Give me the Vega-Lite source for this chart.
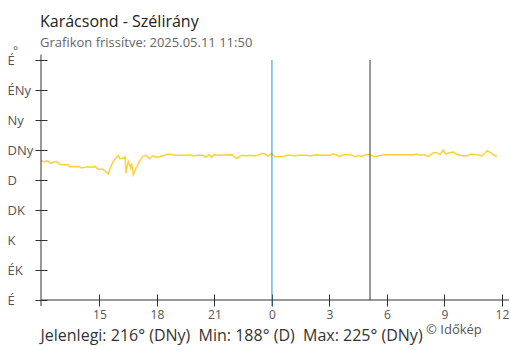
{
  "$schema": "https://vega.github.io/schema/vega-lite/v6.json",
  "autosize": "none",
  "width": 467,
  "height": 240,
  "padding": {"left": 41, "top": 60, "right": 2, "bottom": 50},
  "background": "white",
  "config": {"view": {"stroke": null}, "font": "Open Sans"},
  "title": {
    "text": "Karácsond - Szélirány",
    "subtitle": "Grafikon frissítve: 2025.05.11 11:50",
    "anchor": "start",
    "frame": "group",
    "font": "Open Sans",
    "subtitleFont": "Open Sans",
    "fontSize": 16,
    "fontWeight": "normal",
    "color": "#222222",
    "subtitleFontSize": 13,
    "subtitleColor": "#666666",
    "offset": 12,
    "subtitlePadding": 7,
    "dx": -1,
    "dy": 18
  },
  "datasets": {
    "wind": [
      {"t": "2025-05-10T11:57:00Z", "deg": 209},
      {"t": "2025-05-10T12:09:00Z", "deg": 207},
      {"t": "2025-05-10T12:17:00Z", "deg": 209},
      {"t": "2025-05-10T12:27:00Z", "deg": 205},
      {"t": "2025-05-10T12:45:00Z", "deg": 208},
      {"t": "2025-05-10T12:58:00Z", "deg": 203},
      {"t": "2025-05-10T13:21:00Z", "deg": 203},
      {"t": "2025-05-10T13:27:00Z", "deg": 200},
      {"t": "2025-05-10T13:58:00Z", "deg": 200},
      {"t": "2025-05-10T14:03:00Z", "deg": 198},
      {"t": "2025-05-10T14:22:00Z", "deg": 200},
      {"t": "2025-05-10T14:34:00Z", "deg": 199},
      {"t": "2025-05-10T14:47:00Z", "deg": 200},
      {"t": "2025-05-10T14:55:00Z", "deg": 196},
      {"t": "2025-05-10T15:11:00Z", "deg": 196},
      {"t": "2025-05-10T15:16:00Z", "deg": 194},
      {"t": "2025-05-10T15:27:00Z", "deg": 189},
      {"t": "2025-05-10T15:33:00Z", "deg": 197},
      {"t": "2025-05-10T15:43:00Z", "deg": 208},
      {"t": "2025-05-10T15:54:00Z", "deg": 214},
      {"t": "2025-05-10T15:59:00Z", "deg": 217},
      {"t": "2025-05-10T16:04:00Z", "deg": 212},
      {"t": "2025-05-10T16:17:00Z", "deg": 213},
      {"t": "2025-05-10T16:20:00Z", "deg": 216},
      {"t": "2025-05-10T16:23:00Z", "deg": 190},
      {"t": "2025-05-10T16:30:00Z", "deg": 208},
      {"t": "2025-05-10T16:38:00Z", "deg": 198},
      {"t": "2025-05-10T16:41:00Z", "deg": 205},
      {"t": "2025-05-10T16:46:00Z", "deg": 188},
      {"t": "2025-05-10T16:55:00Z", "deg": 198},
      {"t": "2025-05-10T17:05:00Z", "deg": 208},
      {"t": "2025-05-10T17:15:00Z", "deg": 215},
      {"t": "2025-05-10T17:26:00Z", "deg": 217},
      {"t": "2025-05-10T17:36:00Z", "deg": 212},
      {"t": "2025-05-10T17:46:00Z", "deg": 216},
      {"t": "2025-05-10T17:59:00Z", "deg": 214},
      {"t": "2025-05-10T18:15:00Z", "deg": 216},
      {"t": "2025-05-10T18:35:00Z", "deg": 219},
      {"t": "2025-05-10T18:46:00Z", "deg": 218},
      {"t": "2025-05-10T19:02:00Z", "deg": 217},
      {"t": "2025-05-10T19:33:00Z", "deg": 217},
      {"t": "2025-05-10T19:43:00Z", "deg": 218},
      {"t": "2025-05-10T19:54:00Z", "deg": 216},
      {"t": "2025-05-10T20:04:00Z", "deg": 217},
      {"t": "2025-05-10T20:25:00Z", "deg": 217},
      {"t": "2025-05-10T20:32:00Z", "deg": 214},
      {"t": "2025-05-10T20:43:00Z", "deg": 218},
      {"t": "2025-05-10T20:51:00Z", "deg": 214},
      {"t": "2025-05-10T20:59:00Z", "deg": 218},
      {"t": "2025-05-10T21:12:00Z", "deg": 217},
      {"t": "2025-05-10T21:54:00Z", "deg": 218},
      {"t": "2025-05-10T22:09:00Z", "deg": 212},
      {"t": "2025-05-10T22:25:00Z", "deg": 217},
      {"t": "2025-05-10T22:41:00Z", "deg": 216},
      {"t": "2025-05-10T22:51:00Z", "deg": 217},
      {"t": "2025-05-10T23:07:00Z", "deg": 216},
      {"t": "2025-05-10T23:15:00Z", "deg": 217},
      {"t": "2025-05-10T23:28:00Z", "deg": 220},
      {"t": "2025-05-10T23:38:00Z", "deg": 219},
      {"t": "2025-05-10T23:48:00Z", "deg": 216},
      {"t": "2025-05-10T23:59:00Z", "deg": 220},
      {"t": "2025-05-11T00:09:00Z", "deg": 215},
      {"t": "2025-05-11T00:35:00Z", "deg": 215},
      {"t": "2025-05-11T00:46:00Z", "deg": 217},
      {"t": "2025-05-11T01:02:00Z", "deg": 217},
      {"t": "2025-05-11T01:12:00Z", "deg": 216},
      {"t": "2025-05-11T01:22:00Z", "deg": 217},
      {"t": "2025-05-11T01:49:00Z", "deg": 217},
      {"t": "2025-05-11T01:57:00Z", "deg": 216},
      {"t": "2025-05-11T02:20:00Z", "deg": 218},
      {"t": "2025-05-11T02:36:00Z", "deg": 217},
      {"t": "2025-05-11T03:02:00Z", "deg": 217},
      {"t": "2025-05-11T03:10:00Z", "deg": 219},
      {"t": "2025-05-11T03:23:00Z", "deg": 218},
      {"t": "2025-05-11T03:31:00Z", "deg": 215},
      {"t": "2025-05-11T03:43:00Z", "deg": 218},
      {"t": "2025-05-11T04:04:00Z", "deg": 218},
      {"t": "2025-05-11T04:20:00Z", "deg": 215},
      {"t": "2025-05-11T04:32:00Z", "deg": 217},
      {"t": "2025-05-11T04:41:00Z", "deg": 215},
      {"t": "2025-05-11T04:53:00Z", "deg": 218},
      {"t": "2025-05-11T05:07:00Z", "deg": 218},
      {"t": "2025-05-11T05:20:00Z", "deg": 215},
      {"t": "2025-05-11T05:31:00Z", "deg": 216},
      {"t": "2025-05-11T05:43:00Z", "deg": 217},
      {"t": "2025-05-11T05:59:00Z", "deg": 218},
      {"t": "2025-05-11T06:23:00Z", "deg": 218},
      {"t": "2025-05-11T06:41:00Z", "deg": 218},
      {"t": "2025-05-11T07:26:00Z", "deg": 218},
      {"t": "2025-05-11T07:33:00Z", "deg": 219},
      {"t": "2025-05-11T07:43:00Z", "deg": 217},
      {"t": "2025-05-11T07:59:00Z", "deg": 218},
      {"t": "2025-05-11T08:09:00Z", "deg": 215},
      {"t": "2025-05-11T08:25:00Z", "deg": 221},
      {"t": "2025-05-11T08:36:00Z", "deg": 221},
      {"t": "2025-05-11T08:46:00Z", "deg": 218},
      {"t": "2025-05-11T08:56:00Z", "deg": 225},
      {"t": "2025-05-11T09:05:00Z", "deg": 219},
      {"t": "2025-05-11T09:15:00Z", "deg": 221},
      {"t": "2025-05-11T09:28:00Z", "deg": 222},
      {"t": "2025-05-11T09:36:00Z", "deg": 219},
      {"t": "2025-05-11T09:49:00Z", "deg": 217},
      {"t": "2025-05-11T10:10:00Z", "deg": 216},
      {"t": "2025-05-11T10:25:00Z", "deg": 219},
      {"t": "2025-05-11T10:41:00Z", "deg": 218},
      {"t": "2025-05-11T10:57:00Z", "deg": 216},
      {"t": "2025-05-11T11:04:00Z", "deg": 219},
      {"t": "2025-05-11T11:14:00Z", "deg": 224},
      {"t": "2025-05-11T11:28:00Z", "deg": 220},
      {"t": "2025-05-11T11:38:00Z", "deg": 216},
      {"t": "2025-05-11T11:45:00Z", "deg": 216}
    ],
    "markers": [
      {"t": "2025-05-11T00:00:00Z", "kind": "éjfél"},
      {"t": "2025-05-11T05:07:00Z", "kind": "napkelte"}
    ]
  },
  "layer": [
    {
      "data": {"name": "wind"},
      "mark": {"type": "line", "color": "#fdd235", "strokeWidth": 1.5},
      "encoding": {
        "x": {
          "field": "t",
          "type": "temporal",
          "scale": {
            "type": "utc",
            "domain": [
              {"year": 2025, "month": 5, "date": 10, "hours": 11, "minutes": 57, "utc": true},
              {"year": 2025, "month": 5, "date": 11, "hours": 12, "minutes": 19, "utc": true}
            ]
          },
          "axis": {
            "values": [
              {"year": 2025, "month": 5, "date": 10, "hours": 15, "utc": true},
              {"year": 2025, "month": 5, "date": 10, "hours": 18, "utc": true},
              {"year": 2025, "month": 5, "date": 10, "hours": 21, "utc": true},
              {"year": 2025, "month": 5, "date": 11, "hours": 0, "utc": true},
              {"year": 2025, "month": 5, "date": 11, "hours": 3, "utc": true},
              {"year": 2025, "month": 5, "date": 11, "hours": 6, "utc": true},
              {"year": 2025, "month": 5, "date": 11, "hours": 9, "utc": true},
              {"year": 2025, "month": 5, "date": 11, "hours": 12, "utc": true}
            ],
            "tickCount": 20,
            "labelExpr": "utcFormat(datum.value, '%-H')",
            "domain": false,
            "grid": false,
            "offset": -6,
            "tickSize": 12,
            "tickColor": "#333333",
            "labelColor": "#555555",
            "labelFont": "Open Sans",
            "labelFontSize": 12,
            "labelPadding": 3,
            "labelFlush": false,
            "labelOverlap": false,
            "title": "Jelenlegi: 216° (DNy) \u00a0Min: 188° (D) \u00a0Max: 225° (DNy)",
            "titleFont": "Open Sans",
            "titleFontSize": 16,
            "titleFontWeight": "normal",
            "titleColor": "#333333",
            "titleAlign": "left",
            "titleAnchor": "start",
            "titleBaseline": "alphabetic",
            "titleX": -1,
            "titleY": 46
          }
        },
        "y": {
          "field": "deg",
          "type": "quantitative",
          "scale": {"domain": [0, 360], "nice": false, "zero": false},
          "axis": {
            "values": [0, 45, 90, 135, 180, 225, 270, 315, 360],
            "tickCount": 20,
            "labelExpr": "['É','ÉK','K','DK','D','DNy','Ny','ÉNy','É'][round(datum.value/45)]",
            "domain": false,
            "grid": false,
            "offset": -6,
            "tickSize": 12,
            "tickColor": "#333333",
            "labelColor": "#555555",
            "labelFont": "Open Sans",
            "labelFontSize": 13,
            "labelAlign": "left",
            "labelBaseline": "middle",
            "labelPadding": 28,
            "labelFlush": false,
            "labelOverlap": false,
            "title": "°",
            "titleAngle": 0,
            "titleFont": "Open Sans",
            "titleFontSize": 12,
            "titleFontWeight": "normal",
            "titleColor": "#555555",
            "titleAlign": "center",
            "titleBaseline": "alphabetic",
            "titleX": -32,
            "titleY": -6
          }
        }
      }
    },
    {
      "data": {"name": "markers"},
      "mark": {"type": "rule", "strokeWidth": 1},
      "encoding": {
        "x": {"field": "t", "type": "temporal"},
        "y": {"datum": 360, "type": "quantitative"},
        "y2": {"datum": 0},
        "color": {"field": "kind", "type": "nominal", "scale": {"domain": ["éjfél", "napkelte"], "range": ["#2b8fd9", "#333333"]}, "legend": null}
      }
    },
    {
      "data": {"values": [{}]},
      "mark": {"type": "rule", "color": "#2b8fd9", "strokeWidth": 1},
      "encoding": {
        "x": {"datum": {"year": 2025, "month": 5, "date": 11, "hours": 0, "minutes": 0, "utc": true}, "type": "temporal"},
        "y": {"datum": 0, "type": "quantitative"},
        "y2": {"datum": -9}
      }
    },
    {
      "data": {"values": [{}]},
      "mark": {"type": "rule", "color": "#333333", "strokeWidth": 1},
      "encoding": {
        "x": {"datum": {"year": 2025, "month": 5, "date": 10, "hours": 11, "minutes": 57, "utc": true}, "type": "temporal"},
        "x2": {"datum": {"year": 2025, "month": 5, "date": 11, "hours": 12, "minutes": 22, "utc": true}},
        "y": {"datum": 0, "type": "quantitative"}
      }
    },
    {
      "data": {"values": [{}]},
      "mark": {"type": "rule", "color": "#333333", "strokeWidth": 1},
      "encoding": {
        "x": {"datum": {"year": 2025, "month": 5, "date": 10, "hours": 11, "minutes": 57, "utc": true}, "type": "temporal"},
        "y": {"datum": -9, "type": "quantitative"},
        "y2": {"datum": 368}
      }
    },
    {
      "data": {"values": [{"txt": "© Időkép"}]},
      "mark": {"type": "text", "align": "right", "baseline": "alphabetic", "fontSize": 13, "font": "Open Sans", "color": "#555555", "dy": 34},
      "encoding": {
        "x": {"datum": {"year": 2025, "month": 5, "date": 11, "hours": 10, "minutes": 57, "utc": true}, "type": "temporal"},
        "y": {"datum": 0, "type": "quantitative"},
        "text": {"field": "txt"}
      }
    }
  ]
}
